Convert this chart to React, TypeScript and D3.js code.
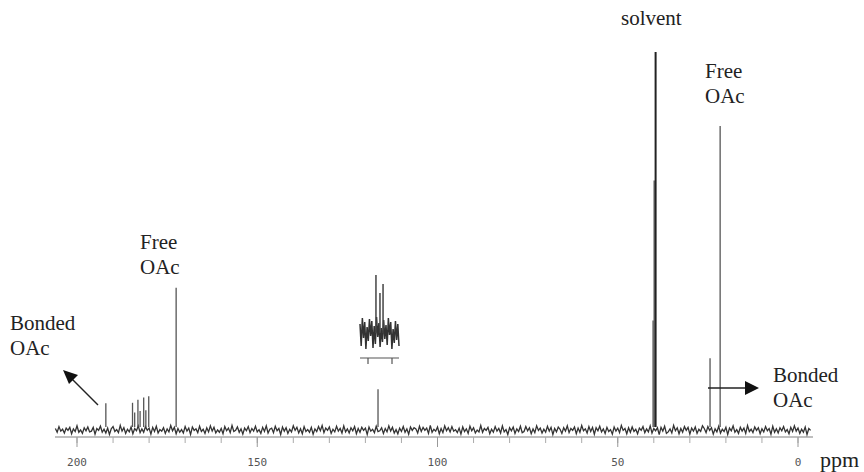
import React from "react";
import * as d3 from "d3";

// ---- Data ----
// baseline noise (tenths of intensity unit), every 0.5 ppm starting at 206 ppm
const noiseStartPpm = 206;
const noiseStepPpm = 0.5;
const baselineNoise = [
  4,-6,9,-3,2,-8,5,-1,7,-10,3,-4,11,-6,0,-9,6,-2,8,-5,
  -3,7,-11,4,-1,10,-6,2,-8,5,-12,3,9,-4,1,-7,12,-3,6,-9,
  2,-5,8,-10,4,-2,11,-7,3,-6,9,-1,5,-11,7,-4,10,-8,1,-3,
  6,-9,3,-5,12,-2,7,-10,4,-6,1,-8,9,-3,5,-12,8,-1,3,-7,
  10,-4,2,-9,6,-5,11,-3,7,-8,0,-6,4,-10,9,-2,5,-7,12,-4,
  -1,8,-6,3,-11,5,-2,9,-7,4,-3,10,-5,1,-9,7,-4,11,-8,2,
  5,-7,10,-2,4,-12,8,-3,6,-9,2,-5,11,-1,7,-8,3,-10,9,-4,
  1,-6,7,-11,3,-4,9,-2,12,-7,5,-1,8,-9,2,-5,10,-3,4,-8,
  11,-5,3,-8,6,-2,9,-10,4,-6,7,-1,5,-12,8,-3,2,-7,10,-4,
  -2,6,-9,4,-5,11,-3,7,-8,1,-10,5,-4,9,-6,3,-11,8,-1,6,
  3,-8,10,-4,7,-1,5,-9,12,-6,2,-3,8,-10,4,-7,11,-2,6,-5,
  9,-3,1,-7,5,-11,8,-4,3,-9,10,-2,6,-8,0,-5,12,-6,4,-1,
  7,-10,2,-6,9,-3,4,-8,11,-5,1,-12,6,-2,8,-9,3,-4,10,-7,
  -4,9,-2,6,-10,3,-7,11,-1,5,-8,2,-6,10,-3,7,-12,4,-5,8,
  2,-9,6,-3,11,-7,4,-1,8,-10,5,-6,12,-2,3,-8,9,-4,7,-11,
  6,-2,10,-5,3,-9,7,-4,1,-11,8,-3,5,-7,12,-1,4,-10,6,-6,
  8,-4,2,-10,5,-1,9,-7,3,-5,11,-8,4,-2,6,-12,7,-3,10,-9,
  -5,3,-8,12,-2,6,-10,4,-6,9,-1,7,-11,5,-3,8,-9,2,-4,11,
  4,-7,9,-1,6,-11,3,-5,10,-8,2,-4,7,-12,5,-2,11,-6,1,-9,
  7,-3,5,-9,12,-4,2,-7,8,-1,6,-10,3,-5,9,-2,4,-11,10,-6,
  3,-8,6,-2,9,-5,1,-10,7,-4,11,-3,5,-9,2,-6,8,-12,4,-1,
];

// peaks: chemical shift (ppm) and height (solvent = 100)
const peakPpm = [192.0, 184.6, 184.0, 183.1, 182.5, 181.5, 180.9, 180.1, 172.5, 116.5, 40.2, 39.9, 39.5, 24.4, 21.6];
const peakHeight = [7.1, 7.2, 4.6, 8.0, 5.0, 8.6, 5.2, 8.9, 37.6, 10.8, 29, 66, 100, 19, 80.4];

// axis
const majorTicks = [200, 150, 100, 50, 0];
const tickLabels = ["200", "150", "100", "50", "0"];

// inset (expanded multiplet)
const insetNoise = [9,-13,15,-5,11,-16,6,-8,14,-3,12,-15,7,-11,16,-4,10,-14,5,-9,13,-6,8,-12,15,-2,11,-16,4,-10,12,-7,9,-13];
const insetPeakPos = [13.5, 16.9, 19.5];
const insetPeakHeight = [58, 40, 49];

// annotations
const labels = [
  { lines: ["solvent"], x: 621, y: 25 },
  { lines: ["Free", "OAc"], x: 705, y: 78 },
  { lines: ["Free", "OAc"], x: 140, y: 249 },
  { lines: ["Bonded", "OAc"], x: 10, y: 330 },
  { lines: ["Bonded", "OAc"], x: 773, y: 382 },
];

export default function App() {
  const W = 864, H = 472;
  const x = d3.scaleLinear().domain([200, 0]).range([77, 798]);
  const y = d3.scaleLinear().domain([0, 100]).range([430, 52]);

  const noisePts: [number, number][] = baselineNoise.map((v, i) => [
    x(noiseStartPpm - i * noiseStepPpm),
    y(v / 10),
  ]);
  const line = d3.line();
  const noisePath = line(noisePts) || "";

  const minorTicks = x.ticks(20);

  const ix = d3.scaleLinear().domain([0, insetNoise.length - 1]).range([360, 399]);
  const iy = d3.scaleLinear().domain([0, 60]).range([333, 273]);
  const insetPath = line(insetNoise.map((v, i) => [ix(i), iy(v)] as [number, number])) || "";

  const axisY = 437;
  const serif = "'Liberation Serif', 'Times New Roman', serif";

  return (
    <svg width={W} height={H} style={{ position: "absolute", left: 0, top: 0, background: "#fff" }}>
      {/* axis */}
      <line x1={55} x2={813} y1={axisY} y2={axisY} stroke="#aaa" strokeWidth={1.5} />
      {minorTicks.map((t) => (
        <line key={"m" + t} x1={x(t)} x2={x(t)} y1={axisY} y2={axisY + 6} stroke="#aaa" strokeWidth={1} />
      ))}
      {majorTicks.map((t, i) => (
        <g key={"M" + t}>
          <line x1={x(t)} x2={x(t)} y1={axisY} y2={axisY + 10} stroke="#999" strokeWidth={1} />
          <text x={x(t)} y={466} textAnchor="middle" fontFamily="'DejaVu Sans Mono', monospace" fontSize={11} fill="#555">
            {tickLabels[i]}
          </text>
        </g>
      ))}
      <text x={820} y={467} fontFamily={serif} fontSize={22} fill="#222">ppm</text>

      {/* spectrum */}
      <path d={noisePath} fill="none" stroke="#333" strokeWidth={1.3} />
      {peakPpm.map((p, i) => (
        <line
          key={"p" + i}
          x1={x(p)}
          x2={x(p)}
          y1={y(0.8)}
          y2={y(peakHeight[i])}
          stroke={peakHeight[i] > 90 ? "#222" : "#555"}
          strokeWidth={peakHeight[i] > 90 ? 2 : 1.3}
        />
      ))}

      {/* inset */}
      <path d={insetPath} fill="none" stroke="#333" strokeWidth={1.5} />
      {insetPeakPos.map((p, i) => (
        <line key={"ip" + i} x1={ix(p)} x2={ix(p)} y1={iy(0)} y2={iy(insetPeakHeight[i])} stroke="#444" strokeWidth={1.5} />
      ))}
      <line x1={360} x2={399} y1={358} y2={358} stroke="#555" strokeWidth={1.2} />
      <line x1={368} x2={368} y1={358} y2={364} stroke="#555" strokeWidth={1.2} />
      <line x1={392} x2={392} y1={358} y2={364} stroke="#555" strokeWidth={1.2} />

      {/* arrows */}
      <line x1={98} y1={405} x2={72} y2={379} stroke="#222" strokeWidth={1.5} />
      <polygon points="63,370 78,375 69,384" fill="#111" />
      <line x1={708} y1={388} x2={746} y2={388} stroke="#222" strokeWidth={1.5} />
      <polygon points="759,388 745,381 745,395" fill="#111" />

      {/* labels */}
      {labels.map((l, i) => (
        <text key={"l" + i} x={l.x} y={l.y} fontFamily={serif} fontSize={21} fill="#222">
          {l.lines.map((s, j) => (
            <tspan key={j} x={l.x} dy={j === 0 ? 0 : 25}>{s}</tspan>
          ))}
        </text>
      ))}
    </svg>
  );
}
